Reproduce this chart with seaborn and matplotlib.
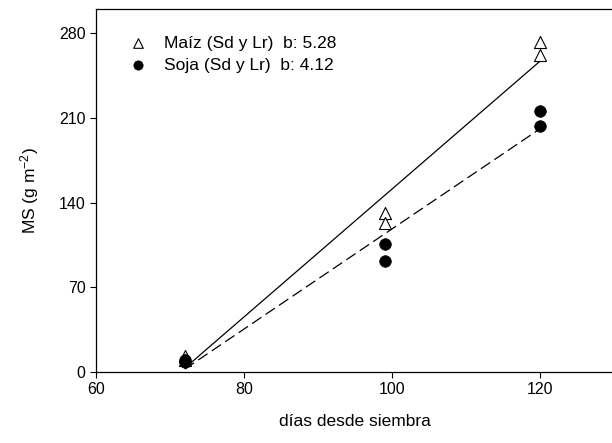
import matplotlib
matplotlib.use("Agg")
import matplotlib.pyplot as plt
import seaborn as sns
import pandas as pd

# Data
dias = [72, 72, 99, 99, 120, 120]
maiz = [13, 10, 131, 123, 273, 262]
soja = [8, 10, 106, 92, 216, 203]
x_ticks = [60, 80, 100, 120]
y_ticks = [0, 70, 140, 210, 280]
label_maiz = "Maíz (Sd y Lr)  b: 5.28"
label_soja = "Soja (Sd y Lr)  b: 4.12"

sns.set_theme(style="ticks")
plt.rcParams['font.family'] = ['Liberation Sans', 'DejaVu Sans']
plt.rcParams['mathtext.fontset'] = 'custom'
plt.rcParams['mathtext.rm'] = 'Liberation Sans'
plt.rcParams['mathtext.it'] = 'Liberation Sans:italic'
plt.rcParams['text.color'] = 'black'
plt.rcParams['axes.labelcolor'] = 'black'

df_m = pd.DataFrame({"dias": dias, "ms": maiz})
df_s = pd.DataFrame({"dias": dias, "ms": soja})

fig = plt.figure(figsize=(6.12, 4.43), dpi=100)
ax = fig.add_axes([96/612, 1-372/443, (614-96)/612, (372-9)/443])

sns.regplot(data=df_m, x="dias", y="ms", ci=None, scatter=False, truncate=True,
            line_kws=dict(color="black", lw=0.9), ax=ax)
sns.regplot(data=df_s, x="dias", y="ms", ci=None, scatter=False, truncate=True,
            line_kws=dict(color="black", lw=0.9, dashes=(9, 4)), ax=ax)

sns.scatterplot(data=df_m, x="dias", y="ms", marker="^", s=75, facecolor="white",
                edgecolor="black", linewidth=0.8, label=label_maiz, ax=ax, zorder=3)
sns.scatterplot(data=df_s, x="dias", y="ms", marker="o", s=70, color="black",
                edgecolor="black", linewidth=0.5, label=label_soja, ax=ax, zorder=3)

ax.set_xlim(60, 130)
ax.set_ylim(0, 300)
ax.set_xticks(x_ticks)
ax.set_yticks(y_ticks)
ax.tick_params(labelsize=11.5, length=4, width=0.8, color="black", labelcolor="black")
for sp in ax.spines.values():
    sp.set_linewidth(0.9)
    sp.set_color("black")
ax.spines["right"].set_visible(False)

ax.set_xlabel("días desde siembra", fontsize=12.5, labelpad=12)
ax.set_ylabel("MS (g m$^{\\mathregular{-2}}$)", fontsize=12.5, labelpad=13)

leg = ax.legend(loc="upper left", frameon=False, fontsize=12.5, handlelength=1.0,
                handletextpad=1.0, labelspacing=0.4, borderpad=0, borderaxespad=0,
                markerscale=0.8, bbox_to_anchor=(0.064, 0.927))

fig.savefig("out.png", dpi=100)
